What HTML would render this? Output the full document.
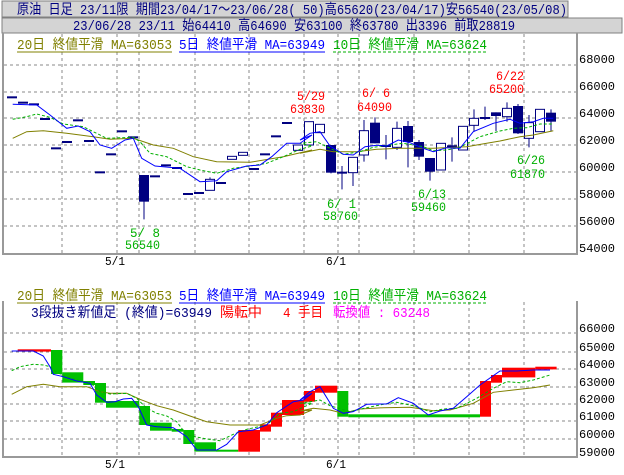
<!DOCTYPE html>
<html><head><meta charset="utf-8"><style>
html,body{margin:0;padding:0;background:#fff;width:624px;height:475px;overflow:hidden}
svg{display:block}
text{font-family:"Liberation Mono","Noto Sans CJK JP",monospace;}
</style></head><body>
<svg id="s" width="624" height="475" xmlns="http://www.w3.org/2000/svg">
<rect x="2" y="1" width="566" height="16" fill="#d4d4d4" stroke="#808080"/>
<rect x="2" y="18" width="620" height="15" fill="#d4d4d4" stroke="#808080"/>
<text x="17" y="14" font-size="14" fill="#000080" textLength="550" lengthAdjust="spacingAndGlyphs">原油 日足 23/11限 期間23/04/17～23/06/28( 50)高65620(23/04/17)安56540(23/05/08)</text>
<text x="73" y="30" font-size="14" fill="#000080" textLength="442" lengthAdjust="spacingAndGlyphs">23/06/28 23/11 始64410 高64690 安63100 終63780 出3396 前取28819</text>
<g id="g"></g>
</svg>
<script>
var g=document.getElementById('g'),h='';
function A(s){h+=s;}
var vx=[62,117,139,195,249,304,338,359,414,469,524];
// frames & grids top
vx.forEach(function(x){A('<line x1="'+x+'" y1="34" x2="'+x+'" y2="253" stroke="#888" stroke-dasharray="3,3"/>');
A('<line x1="'+x+'" y1="302" x2="'+x+'" y2="456" stroke="#888" stroke-dasharray="3,3"/>');});
[65,92,118,145,172,199,226].forEach(function(y){A('<line x1="4" y1="'+y+'" x2="576" y2="'+y+'" stroke="#888" stroke-dasharray="3,3"/>');});
[333,352,369,387,404,421,439].forEach(function(y){A('<line x1="4" y1="'+y+'" x2="576" y2="'+y+'" stroke="#888" stroke-dasharray="3,3"/>');});
A('<path d="M3 33V254H577V33" fill="none" stroke="#999" stroke-width="2"/>');
A('<path d="M3 301V457H577V301" fill="none" stroke="#999" stroke-width="2"/>');
// y labels
var tl=[[68000,64],[66000,91],[64000,118],[62000,145],[60000,172],[58000,199],[56000,226],[54000,253]];
tl.forEach(function(t){A('<text x="579" y="'+(t[1]-1)+'" font-size="12" fill="#000" textLength="36" lengthAdjust="spacingAndGlyphs">'+t[0]+'</text>');});
var bl=[[66000,333],[65000,352],[64000,369],[63000,387],[62000,404],[61000,421],[60000,439],[59000,457]];
bl.forEach(function(t){A('<text x="579" y="'+(t[1]-1)+'" font-size="12" fill="#000" textLength="36" lengthAdjust="spacingAndGlyphs">'+t[0]+'</text>');});
A('<text x="105" y="265" font-size="12" textLength="20" lengthAdjust="spacingAndGlyphs">5/1</text>');
A('<text x="326" y="265" font-size="12" textLength="20" lengthAdjust="spacingAndGlyphs">6/1</text>');
A('<text x="105" y="468" font-size="12" textLength="20" lengthAdjust="spacingAndGlyphs">5/1</text>');
A('<text x="326" y="468" font-size="12" textLength="20" lengthAdjust="spacingAndGlyphs">6/1</text>');
// legends
function leg(y){
A('<text x="17" y="'+y+'" font-size="14" fill="#808000" textLength="155" lengthAdjust="spacingAndGlyphs">20日 終値平滑 MA=63053</text><line x1="17" y1="'+(y+3)+'" x2="172" y2="'+(y+3)+'" stroke="#808000"/>');
A('<text x="179" y="'+y+'" font-size="14" fill="#0000ff" textLength="146" lengthAdjust="spacingAndGlyphs">5日 終値平滑 MA=63949</text><line x1="179" y1="'+(y+3)+'" x2="325" y2="'+(y+3)+'" stroke="#0000ff"/>');
A('<text x="333" y="'+y+'" font-size="14" fill="#00b000" textLength="154" lengthAdjust="spacingAndGlyphs">10日 終値平滑 MA=63624</text><line x1="333" y1="'+(y+3)+'" x2="487" y2="'+(y+3)+'" stroke="#00b000" stroke-dasharray="3,2"/>');}
leg(49);leg(300);
A('<text x="31" y="317" font-size="14" fill="#000080" textLength="181" lengthAdjust="spacingAndGlyphs">3段抜き新値足 (終値)=63949</text>');
A('<text x="220" y="317" font-size="14" fill="#ff0000" textLength="42" lengthAdjust="spacingAndGlyphs">陽転中</text>');
A('<text x="283" y="317" font-size="14" fill="#ff0000" textLength="40" lengthAdjust="spacingAndGlyphs">4 手目</text>');
A('<text x="333" y="317" font-size="14" fill="#ff00ff" textLength="97" lengthAdjust="spacingAndGlyphs">転換値 : 63248</text>');
// candles: [i, top, bottom, wickTop, wickBot, type] in zoom coords; zone 2 or 3
function cy(z){return 60+z/3;}
var C=[[0,112],[1,128],[2,133],[3,177],[4,265],[5,246],[6,181],[7,243],[8,337],[9,283],[10,214],[11,232],
[12,345,425,345,478,'n'],[13,349],[14,316],[15,324],[16,402],[17,399],[18,358,391,352,391,'w'],[19,369],
[20,289,298,289,298,'w'],[21,277,286,277,286,'w'],[22,327],[23,283],[24,229],[25,189],[26,255,271,255,271,'w'],
[27,185,255,184,255,'w'],[28,193,218,193,218,'w'],[29,255,338,255,340,'n'],[30,335,340,318,388,'n'],[31,292,338,292,378,'w'],
[32,212,285,180,305,'w'],[33,188,250,172,250,'n'],[34,255,260,225,298,'n'],[35,205,262,185,270,'w'],[36,198,246,183,322,'n'],
[37,246,290,240,300,'n'],[38,294,335,294,362,'n'],[39,250,330,250,330,'w'],[40,256,260,232,305,'n'],[41,199,270,199,270,'w'],
[42,175,196,148,215,'w'],[43,171,175,140,180,'n'],[44,157,168,157,213,'n'],[45,145,170,127,185,'w'],[46,138,220,132,222,'n'],
[47,188,235,165,262,'w'],[48,148,215,148,215,'w'],[49,158,185,148,215,'n']];
C.forEach(function(c){var x=12+11*c[0];
 if(c.length==2){var y=cy(c[1]);A('<rect x="'+(x-5)+'" y="'+(y-1)+'" width="10" height="2" fill="#000080"/>');return;}
 var t=cy(c[1]),b=cy(c[2]),wt=cy(c[3]),wb=cy(c[4]);
 A('<line x1="'+x+'" y1="'+wt+'" x2="'+x+'" y2="'+wb+'" stroke="#000080"/>');
 if(c[5]=='n')A('<rect x="'+(x-5)+'" y="'+t+'" width="10" height="'+Math.max(2,b-t)+'" fill="#000080"/>');
 else A('<rect x="'+(x-4.5)+'" y="'+t+'" width="9" height="'+Math.max(2,b-t)+'" fill="#fff" stroke="#000080"/>');
});
function pl(a,b,ox,oy,col,dash,w){var p=[];a.forEach(function(q){p.push((q[0]/3).toFixed(1)+','+(oy+q[1]/3).toFixed(1));});
 b.forEach(function(q){p.push((ox+q[0]/3).toFixed(1)+','+(oy+q[1]/3).toFixed(1));});
 A('<polyline points="'+p.join(' ')+'" fill="none" stroke="'+col+'" stroke-width="'+(w||1)+'"'+(dash?' stroke-dasharray="3,2"':'')+'/>');}
// top MAs
pl([[38,235],[80,215],[130,212],[200,220],[280,230],[330,238],[400,235],[460,255],[520,265],[580,290],[650,305],[750,307],[850,290],[936,270]],
[[0,280],[60,268],[100,275],[170,275],[230,268],[300,265],[400,265],[500,260],[560,250],[600,243],[660,230],[700,225],[760,212]],300,60,'#808000');
pl([[38,178],[80,170],[110,162],[150,172],[190,192],[250,200],[280,215],[320,235],[400,232],[420,245],[450,280],[500,290],[560,320],[600,330],[650,340],[700,325],[750,318],[800,310],[850,290],[900,268],[936,258]],
[[0,250],[50,245],[90,265],[130,283],[180,275],[220,262],[270,255],[310,250],[370,260],[400,272],[440,270],[480,262],[540,230],[600,213],[640,205],[680,203],[720,192],[760,192]],300,60,'#00b000',1);
pl([[38,133],[110,135],[150,165],[200,205],[235,198],[270,215],[300,255],[335,265],[375,240],[400,235],[425,295],[465,318],[540,325],[600,365],[650,362],[680,335],[740,318],[780,315],[815,290],[860,250],[900,250],[936,225]],
[[0,240],[30,220],[60,215],[90,258],[130,283],[160,285],[195,260],[230,256],[260,258],[295,240],[330,248],[370,265],[400,275],[440,263],[480,265],[520,215],[580,190],[630,178],[660,190],[700,185],[730,175],[760,175]],300,60,'#0000ff');
// top annotations
function lab(x,y,s,c,w){A('<text x="'+x+'" y="'+y+'" font-size="13" fill="'+c+'" textLength="'+w+'" lengthAdjust="spacingAndGlyphs">'+s+'</text>');}
lab(297,100,'5/29','#ff0000',28);lab(290,113,'63830','#ff0000',35);
lab(362,97,'6/ 6','#ff0000',28);lab(357,111,'64090','#ff0000',35);
lab(496,80,'6/22','#ff0000',28);lab(489,93,'65200','#ff0000',35);
lab(130,237,'5/ 8','#00b000',30);lab(125,249,'56540','#00b000',35);
lab(327,208,'6/ 1','#00b000',29);lab(323,220,'58760','#00b000',35);
lab(418,198,'6/13','#00b000',28);lab(411,211,'59460','#00b000',35);
lab(517,164,'6/26','#00b000',28);lab(510,178,'61870','#00b000',35);
// bottom bricks (zoom coords)
function br(x1,x2,y1,y2,c,ox){A('<rect x="'+(ox+x1/3).toFixed(1)+'" y="'+(285+y1/3).toFixed(1)+'" width="'+((x2-x1)/3).toFixed(1)+'" height="'+((y2-y1)/3).toFixed(1)+'" fill="'+c+'"/>');}
var R='#ff0000',G='#00c000';
[[53,153,193,200,R],[153,187,195,267,G],[187,250,262,293,G],[250,285,288,300,G],[285,318,294,353,G],[318,418,348,368,G],[418,450,363,420,G],[450,515,413,437,G],[515,550,432,440,G],[550,583,435,477,G],[583,648,472,500,G],[648,715,494,500,G],
[715,780,435,500,R],[780,813,418,440,R],[813,846,383,425,R],[846,912,345,390,R],[912,936,318,350,R]].forEach(function(b){br(b[0],b[1],b[2],b[3],b[4],0);});
[[0,12,345,390,R],[12,45,318,350,R],[45,112,302,323,R],[112,145,318,395,G],[145,540,388,397,G],[540,573,288,395,R],[573,606,270,293,R],[606,706,248,277,R],[706,770,245,253,R]].forEach(function(b){br(b[0],b[1],b[2],b[3],b[4],300);});
pl([[35,328],[80,305],[130,298],[180,305],[260,305],[300,320],[330,325],[380,325],[420,343],[470,362],[520,375],[570,393],[620,410],[690,420],[780,420],[830,400],[860,392],[900,390],[936,375]],
[[0,378],[40,370],[90,375],[130,385],[180,372],[250,368],[330,367],[400,377],[450,375],[520,355],[580,322],[640,315],[700,308],[750,300]],300,285,'#808000');
pl([[35,257],[60,245],[100,238],[130,240],[150,245],[170,262],[200,275],[250,290],[275,297],[300,320],[330,327],[380,325],[410,340],[440,370],[470,385],[500,393],[530,410],[560,450],[620,462],[660,467],[700,448],[740,433],[800,420],[840,385],[880,380],[936,355]],
[[0,355],[30,350],[60,345],[90,362],[110,368],[150,380],[200,368],[250,358],[290,352],[340,362],[390,380],[430,372],[470,370],[530,340],[580,310],[620,290],[660,293],[700,285],[750,270]],300,285,'#00b000',1);
pl([[35,198],[100,198],[130,213],[150,245],[160,268],[190,275],[230,288],[270,295],[290,330],[320,352],[345,350],[370,342],[395,340],[415,365],[440,420],[470,425],[520,428],[560,455],[590,495],[650,495],[680,478],[715,440],[760,435],[800,420],[830,383],[880,350],[910,345],[936,325]],
[[0,345],[30,320],[60,305],[100,370],[130,385],[160,380],[200,358],[240,357],[260,357],[295,338],[340,355],[385,390],[420,378],[460,370],[500,335],[540,300],[600,258],[650,258],[700,255],[750,255]],300,285,'#0000ff');
g.innerHTML=h;
</script>
</body></html>
